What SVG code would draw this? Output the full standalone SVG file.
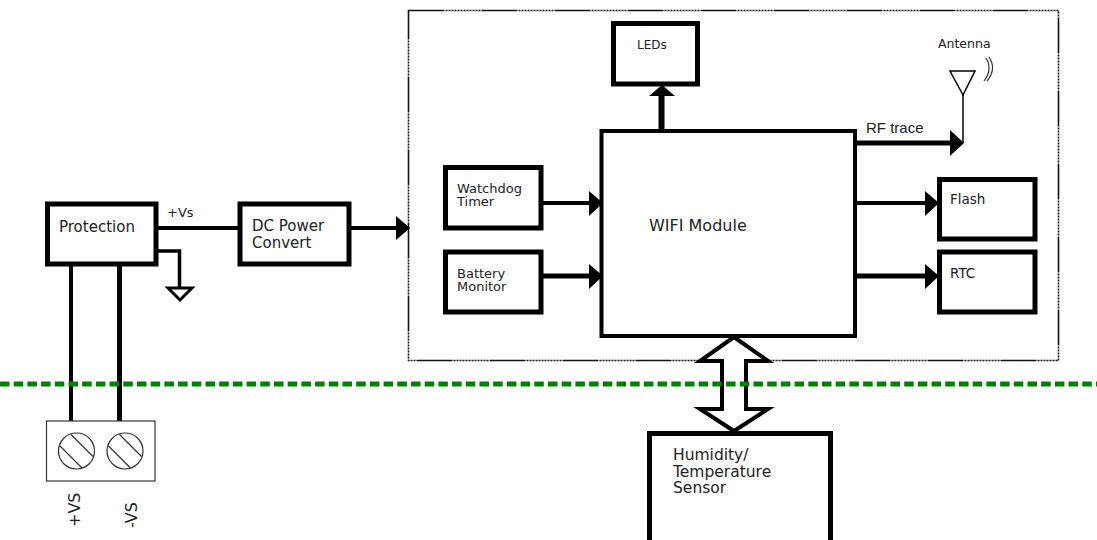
<svg xmlns="http://www.w3.org/2000/svg" width="1097" height="540" viewBox="0 0 1097 540">
<defs>
<style>
.box{fill:#fff;stroke:#000;stroke-width:5}
.t{font-family:"DejaVu Sans",Verdana,sans-serif;fill:#222}
.l{fill:none;stroke:#000}
.h{fill:#000;stroke:none}
.thin{fill:none;stroke:#333;stroke-width:1.2}
</style>
</defs>
<rect width="1097" height="540" fill="#fff"/>
<rect id="frame" x="408.500" y="10.500" width="650" height="350" fill="none" stroke="#111" stroke-width="1.600" stroke-dasharray="36 1 2 1 2 1 2 1 2 1 2 1 2 1 2 1 2 1 2 1 2 1 2 1 2 1"/>
<g id="connectors">
<path class="l" stroke-width="4" d="M158 228H238"/>
<path class="l" stroke-width="4" d="M351 228H398"/><path class="h" d="M396 216L410 228L396 240Z"/>
<path class="l" stroke-width="3.500" d="M158 251H179.500V288"/>
<path d="M168 288H192L180 300Z" fill="#fff" stroke="#000" stroke-width="3"/>
<path class="l" stroke-width="4" d="M71 266V421"/>
<path class="l" stroke-width="5" d="M119.500 266V421"/>
<path class="l" stroke-width="6" d="M661.500 131V95"/><path class="h" d="M649 96L662 85L675 96Z"/>
<path class="l" stroke-width="4" d="M543 203H590"/><path class="h" d="M589 191L603 203L589 216Z"/>
<path class="l" stroke-width="5" d="M543 276H590"/><path class="h" d="M589 264L603 276L589 289Z"/>
<path class="l" stroke-width="4" d="M855 203H926"/><path class="h" d="M925 191L939 203L925 216Z"/>
<path class="l" stroke-width="5" d="M855 276H926"/><path class="h" d="M925 264L939 276L925 289Z"/>
<path class="l" stroke-width="5" d="M855 143H952"/><path class="h" d="M950 130L964 143L950 156Z"/>
<path class="l" stroke-width="1.500" stroke="#222" d="M963 143V95"/>
<path d="M734 337L700 361H722V409H700L734 431L768 409H746V361H768Z" fill="#fff" stroke="#000" stroke-width="4"/>
</g>
<path id="divider" d="M0 384H1097" fill="none" stroke="#008000" stroke-width="5" stroke-dasharray="9.500 4.200"/>
<g id="protection"><rect class="box" x="47.500" y="204" width="108.500" height="60"/><text class="t" x="59" y="232" font-size="15">Protection</text></g>
<g id="dc-power"><rect class="box" x="240" y="204" width="109" height="60"/><text class="t" x="252" y="231" font-size="15">DC Power</text><text class="t" x="252" y="248" font-size="15">Convert</text></g>
<text id="vs-label" class="t" x="167" y="217" font-size="13">+Vs</text>
<g id="terminal">
<rect x="46.500" y="421" width="108.500" height="60" fill="#fff" stroke="#333" stroke-width="1.200"/>
<circle class="thin" cx="76.500" cy="451" r="18"/><path class="thin" d="M71 434.500L93 456.500M60 446L82 468"/>
<circle class="thin" cx="125" cy="451" r="18"/><path class="thin" d="M119.500 434.500L141.500 456.500M108.500 446L130.500 468"/>
<text class="t" transform="translate(80 527) rotate(-90)" font-size="16">+VS</text>
<text class="t" transform="translate(137 528) rotate(-90)" font-size="16">-VS</text>
</g>
<g id="leds"><rect class="box" x="613.500" y="23.500" width="84" height="60.500"/><text class="t" x="637" y="49" font-size="12">LEDs</text></g>
<g id="antenna"><text class="t" x="938" y="48" font-size="12.500">Antenna</text><path class="l" stroke="#222" stroke-width="1.500" d="M950 71H975L963 95Z"/><path class="thin" d="M986 58Q993 69 984 81M989 57Q997 69 987 81"/></g>
<text id="rf-label" x="866" y="133" font-family="'Liberation Sans',Arial,sans-serif" font-size="15" fill="#222">RF trace</text>
<g id="wifi"><rect x="601.500" y="131" width="253.500" height="205" fill="#fff" stroke="#000" stroke-width="4"/><text class="t" x="649" y="231" font-size="16">WIFI Module</text></g>
<g id="watchdog"><rect class="box" x="445.500" y="167.500" width="95.500" height="60.500"/><text class="t" x="457" y="193" font-size="13">Watchdog</text><text class="t" x="457" y="206" font-size="13">Timer</text></g>
<g id="battery"><rect class="box" x="445.500" y="252" width="95.500" height="60"/><text class="t" x="457" y="278" font-size="13">Battery</text><text class="t" x="457" y="291" font-size="13">Monitor</text></g>
<g id="flash"><rect class="box" x="939.500" y="179.500" width="95.500" height="59.500"/><text class="t" x="950" y="204" font-size="13.500">Flash</text></g>
<g id="rtc"><rect class="box" x="939.500" y="252" width="95.500" height="60"/><text class="t" x="950" y="278" font-size="13.500">RTC</text></g>
<g id="sensor"><rect class="box" x="649.500" y="433.500" width="181" height="120"/><text class="t" x="673" y="460" font-size="15.500">Humidity/</text><text class="t" x="673" y="477" font-size="15.500">Temperature</text><text class="t" x="673" y="493" font-size="15.500">Sensor</text></g>
</svg>
